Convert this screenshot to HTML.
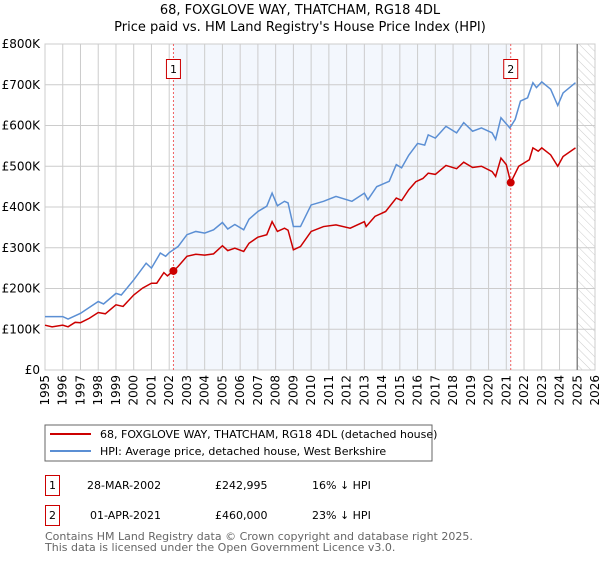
<!DOCTYPE html>
<html><head><meta charset="utf-8"><style>
body{margin:0;background:#fff;font-family:"DejaVu Sans","Liberation Sans",sans-serif;}
svg text{font-family:"DejaVu Sans","Liberation Sans",sans-serif;}
</style></head><body>
<svg id="c" width="600" height="560" xmlns="http://www.w3.org/2000/svg">
<defs><pattern id="hatch" width="6" height="6" patternUnits="userSpaceOnUse" patternTransform="rotate(-45)"><line x1="0" y1="0" x2="0" y2="6" stroke="#ccc" stroke-width="1"/></pattern></defs>
<text x="300" y="14" text-anchor="middle" font-size="13">68, FOXGLOVE WAY, THATCHAM, RG18 4DL</text>
<text x="300" y="31" text-anchor="middle" font-size="13">Price paid vs. HM Land Registry's House Price Index (HPI)</text>
<g id="plot"></g>
<rect x="45" y="425" width="387" height="36" fill="#fff" stroke="#666"/>
<line x1="50" y1="434" x2="91" y2="434" stroke="#cc0000" stroke-width="2"/>
<text x="100" y="438" font-size="11">68, FOXGLOVE WAY, THATCHAM, RG18 4DL (detached house)</text>
<line x1="50" y1="451" x2="91" y2="451" stroke="#5b8fd4" stroke-width="2"/>
<text x="100" y="455" font-size="11">HPI: Average price, detached house, West Berkshire</text>
<g>
<rect x="45.5" y="475.5" width="14" height="20" fill="none" stroke="#cc0000"/>
<text x="52.5" y="489" text-anchor="middle" font-size="11">1</text>
<text x="87" y="489" font-size="11">28-MAR-2002</text>
<text x="215" y="489" font-size="11">£242,995</text>
<text x="312" y="489" font-size="11">16% ↓ HPI</text></g>
<g>
<rect x="45.5" y="505.5" width="14" height="20" fill="none" stroke="#cc0000"/>
<text x="52.5" y="519" text-anchor="middle" font-size="11">2</text>
<text x="90" y="519" font-size="11">01-APR-2021</text>
<text x="215" y="519" font-size="11">£460,000</text>
<text x="312" y="519" font-size="11">23% ↓ HPI</text></g>
<text x="45" y="540" font-size="11" fill="#666">Contains HM Land Registry data © Crown copyright and database right 2025.</text>
<text x="45" y="551" font-size="11" fill="#666">This data is licensed under the Open Government Licence v3.0.</text>
</svg>
<script>
const yearTicks=[1995,1996,1997,1998,1999,2000,2001,2002,2003,2004,2005,2006,2007,2008,2009,2010,2011,2012,2013,2014,2015,2016,2017,2018,2019,2020,2021,2022,2023,2024,2025,2026];
const valueTicks=[0,100,200,300,400,500,600,700,800];
const valueTickLabels=["£0","£100K","£200K","£300K","£400K","£500K","£600K","£700K","£800K"];
const hpiYears=[1995,1996,1996.3,1997,1998,1998.3,1999,1999.3,2000,2000.7,2001,2001.5,2001.8,2002,2002.5,2003,2003.5,2004,2004.5,2005,2005.3,2005.7,2006.2,2006.5,2007,2007.5,2007.8,2008.1,2008.5,2008.7,2009,2009.4,2010,2010.7,2011.4,2012.3,2013,2013.2,2013.7,2014.4,2014.8,2015.1,2015.5,2016,2016.4,2016.6,2017,2017.6,2018.2,2018.6,2019.1,2019.6,2020.2,2020.4,2020.7,2021.2,2021.5,2021.8,2022.2,2022.5,2022.7,2023,2023.5,2023.9,2024.2,2024.9];
const hpiValues=[131,131,125,139,168,162,188,184,221,262,250,287,279,288,303,332,340,336,344,362,346,357,344,370,389,402,434,403,414,410,352,352,405,414,426,414,434,418,450,463,504,496,527,556,552,577,569,598,582,607,586,594,582,566,619,594,615,660,668,705,693,707,689,649,680,705];
const priceYears=[1995,1995.4,1996,1996.3,1996.7,1997,1997.5,1998,1998.4,1999,1999.4,2000,2000.5,2001,2001.3,2001.7,2001.9,2002.24,2002.5,2003,2003.5,2004,2004.5,2005,2005.3,2005.7,2006.2,2006.5,2007,2007.5,2007.8,2008.1,2008.5,2008.7,2009,2009.4,2010,2010.7,2011.4,2012.2,2013,2013.1,2013.6,2014.2,2014.8,2015.1,2015.5,2015.9,2016.3,2016.6,2017,2017.6,2018.2,2018.6,2019.1,2019.6,2020.2,2020.4,2020.7,2021.0,2021.25,2021.7,2022.3,2022.5,2022.8,2023,2023.5,2023.9,2024.2,2024.9];
const priceValues=[110,106,110,106,117,116,127,141,138,160,156,184,201,213,213,239,231,243,254,279,284,282,285,305,293,299,291,311,326,332,364,340,348,343,295,303,340,352,356,348,364,352,377,389,422,416,442,462,470,483,480,502,494,510,497,500,487,475,520,504,460,500,516,545,537,545,528,500,524,545];
const saleYears=[2002.24,2021.25];
const saleValues=[243,460];
const saleLabels=["1","2"];
const X0=45,X1=595,Y0=370,Y1=44;
const xs=y=>X0+(y-1995)/(2026-1995)*(X1-X0);
const ys=v=>Y0-v/800*(Y0-Y1);
const NS="http://www.w3.org/2000/svg";
const g=document.getElementById('plot');
function mk(t,a){const e=document.createElementNS(NS,t);for(const k in a)e.setAttribute(k,a[k]);g.appendChild(e);return e;}
let e;
e=mk('rect',{x:X0,y:Y1,width:X1-X0,height:Y0-Y1,fill:'#fff',stroke:'#ccc'});


e=mk('rect',{x:xs(saleYears[0]),y:Y1,width:xs(saleYears[1])-xs(saleYears[0]),height:Y0-Y1,fill:'#eef3fc',opacity:0.7});


e=mk('rect',{x:xs(2025),y:Y1,width:X1-xs(2025),height:Y0-Y1,fill:'url(#hatch)'});


yearTicks.forEach(yr=>{
 e=mk('line',{x1:xs(yr),x2:xs(yr),y1:Y1,y2:Y0,stroke:'#ccc'});
 
 
 e=mk('text',{x:0,y:0,'font-size':12,'text-anchor':'end',transform:`translate(${xs(yr)+4},${Y0+5}) rotate(-90)`});
 e.textContent=yr;
 
 
});
valueTicks.forEach((v,i)=>{
 e=mk('line',{x1:X0,x2:X1,y1:ys(v),y2:ys(v),stroke:'#ccc'});
 
 
 e=mk('text',{x:40,y:ys(v)+4,'font-size':12,'text-anchor':'end'});
 e.textContent=valueTickLabels[i];
 
 
});
e=mk('line',{x1:xs(2025),x2:xs(2025),y1:Y1,y2:Y0,stroke:'#888','stroke-width':1.5});


saleYears.forEach((yr,i)=>{
 e=mk('line',{x1:xs(yr),x2:xs(yr),y1:Y1,y2:Y0,stroke:'#f06060','stroke-dasharray':'2,2'});
 
 
 e=mk('rect',{x:xs(yr)-7,y:59.5,width:14,height:19,fill:'#fff',stroke:'#cc0000'});
 
 
 e=mk('text',{x:xs(yr)-3.5,y:73,'font-size':11});
 e.textContent=saleLabels[i];
 
 
});
e=mk('polyline',{points:hpiYears.map((y,i)=>xs(y)+','+ys(hpiValues[i])).join(' '),fill:'none',stroke:'#5b8fd4','stroke-width':1.5});


e=mk('polyline',{points:priceYears.map((y,i)=>xs(y)+','+ys(priceValues[i])).join(' '),fill:'none',stroke:'#cc0000','stroke-width':1.5});


saleYears.forEach((yr,i)=>{
 e=mk('circle',{cx:xs(yr),cy:ys(saleValues[i]),r:4,fill:'#cc0000'});
 
 
});
</script>
</body></html>
